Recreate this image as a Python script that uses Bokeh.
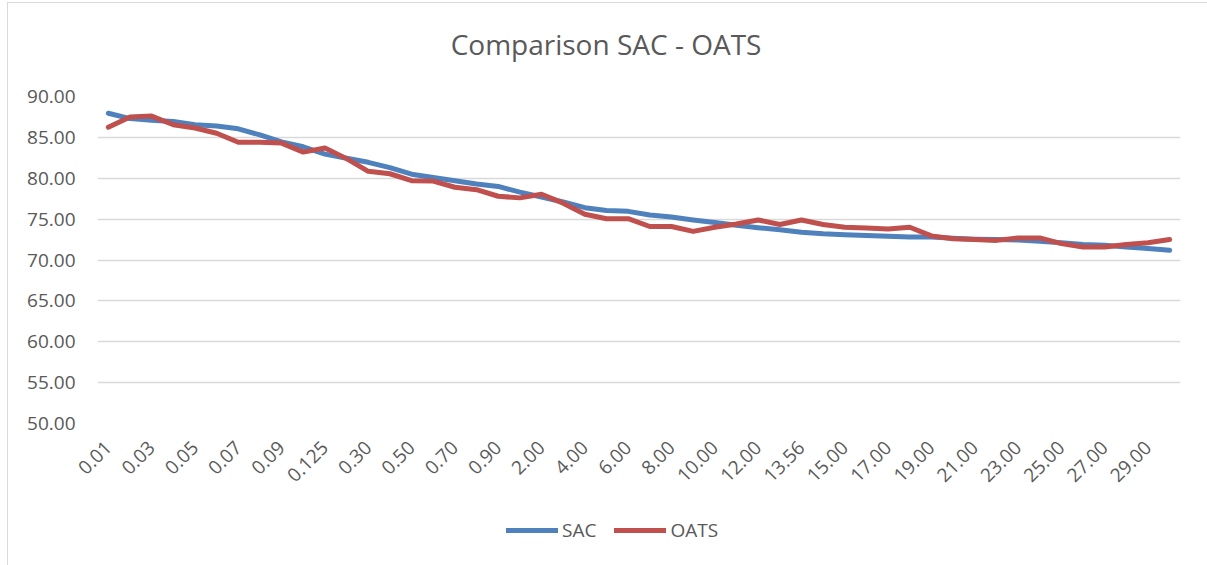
import math
from bokeh.plotting import figure
from bokeh.layouts import column
from bokeh.models import ColumnDataSource, FixedTicker, Legend, LegendItem, Range1d, Label
from bokeh.embed import file_html
from bokeh.resources import INLINE

categories = ["0.01", "0.02", "0.03", "0.04", "0.05", "0.06", "0.07", "0.08", "0.09", "0.10",
              "0.125", "0.20", "0.30", "0.40", "0.50", "0.60", "0.70", "0.80", "0.90", "1.00",
              "2.00", "3.00", "4.00", "5.00", "6.00", "7.00", "8.00", "9.00", "10.00", "11.00",
              "12.00", "13.00", "13.56", "14.00", "15.00", "16.00", "17.00", "18.00", "19.00", "20.00",
              "21.00", "22.00", "23.00", "24.00", "25.00", "26.00", "27.00", "28.00", "29.00", "30.00"]

sac = [87.95, 87.3, 87.1, 86.95, 86.55, 86.4, 86.05, 85.3, 84.45, 83.85,
       82.95, 82.45, 81.95, 81.3, 80.5, 80.1, 79.7, 79.3, 79.0, 78.3,
       77.7, 77.1, 76.4, 76.05, 75.95, 75.5, 75.25, 74.9, 74.6, 74.25,
       73.95, 73.7, 73.4, 73.2, 73.1, 73.0, 72.9, 72.8, 72.8, 72.65,
       72.55, 72.5, 72.45, 72.3, 72.1, 71.9, 71.8, 71.6, 71.4, 71.2]

oats = [86.25, 87.5, 87.6, 86.55, 86.15, 85.5, 84.4, 84.4, 84.3, 83.2,
        83.7, 82.4, 80.85, 80.55, 79.7, 79.65, 78.9, 78.6, 77.8, 77.6,
        78.05, 76.95, 75.6, 75.05, 75.05, 74.1, 74.1, 73.5, 74.0, 74.4,
        74.9, 74.35, 74.9, 74.35, 74.0, 73.9, 73.8, 74.0, 72.95, 72.6,
        72.5, 72.4, 72.7, 72.7, 72.0, 71.6, 71.6, 71.9, 72.1, 72.5]

series_names = ["SAC", "OATS"]
y_ticks = [50, 55, 60, 65, 70, 75, 80, 85, 90]
title_text = "Comparison SAC - OATS"

FONT = "Open Sans"
TXT = "#595959"
COLORS = ["#4F81BD", "#C0504D"]
W = 1199


def strip(height):
    f = figure(width=W, height=height, output_backend="svg", toolbar_location=None,
               x_range=Range1d(0, W), y_range=Range1d(0, height),
               min_border=0, min_border_left=0, min_border_right=0,
               min_border_top=0, min_border_bottom=0)
    f.axis.visible = False
    f.grid.grid_line_color = None
    f.outline_line_color = None
    return f


# title strip
tf = strip(70)
tf.add_layout(Label(x=391, y=70 - 40, text=title_text, text_font=FONT, text_font_size="28px",
                    text_color=TXT, text_align="left", text_baseline="middle"))

idx = list(range(len(categories)))
src = ColumnDataSource(dict(x=idx, sac=sac, oats=oats))

p = figure(width=W, height=430, output_backend="svg", toolbar_location=None,
           x_range=Range1d(-0.5, len(categories) - 0.5), y_range=Range1d(50, 90),
           min_border_left=89, min_border_right=27, min_border_top=23, min_border_bottom=80)
p.outline_line_color = None
p.title.visible = False

p.line("x", "sac", source=src, line_color=COLORS[0], line_width=5, line_cap="round", line_join="round")
p.line("x", "oats", source=src, line_color=COLORS[1], line_width=5, line_cap="round", line_join="round")

# y axis
p.yaxis.ticker = FixedTicker(ticks=y_ticks)
p.yaxis.major_label_overrides = {t: f"{t:.2f}" for t in y_ticks}
p.yaxis.axis_line_color = None
p.yaxis.major_tick_line_color = None
p.yaxis.major_tick_out = 0
p.yaxis.minor_tick_line_color = None
p.yaxis.major_label_standoff = 22
p.yaxis.major_label_text_font = FONT
p.yaxis.major_label_text_font_size = "19px"
p.yaxis.major_label_text_color = TXT

# x axis
p.xaxis.ticker = FixedTicker(ticks=idx[::2])
p.xaxis.major_label_overrides = {i: categories[i] for i in idx}
p.xaxis.major_label_orientation = math.pi / 4
p.xaxis.axis_line_color = None
p.xaxis.major_tick_line_color = None
p.xaxis.major_tick_out = 0
p.xaxis.minor_tick_line_color = None
p.xaxis.major_label_standoff = 21
p.xaxis.major_label_text_font = FONT
p.xaxis.major_label_text_font_size = "19px"
p.xaxis.major_label_text_color = TXT

p.xgrid.grid_line_color = None
p.ygrid.grid_line_color = "#d9d9d9"
p.ygrid.grid_line_width = 1.5

# legend strip below the chart
lf = strip(62)
items = []
for name, col in zip(series_names, COLORS):
    r = lf.line(x=[-10, -5], y=[-10, -5], line_color=col, line_width=5, line_cap="round")
    items.append(LegendItem(label=name, renderers=[r]))
legend = Legend(items=items, orientation="horizontal", location=(409, 22),
                label_text_font=FONT, label_text_font_size="19px", label_text_color=TXT,
                glyph_width=52, glyph_height=20, spacing=18, label_standoff=4,
                border_line_color=None, background_fill_alpha=0)
lf.add_layout(legend, "center")

layout = column(tf, p, lf, spacing=0)
layout.styles = {"position": "relative", "left": "7px", "top": "2px",
                 "border-left": "1px solid #d9d9d9", "border-top": "1px solid #d9d9d9"}

open("out.html", "w").write(file_html(layout, INLINE))
